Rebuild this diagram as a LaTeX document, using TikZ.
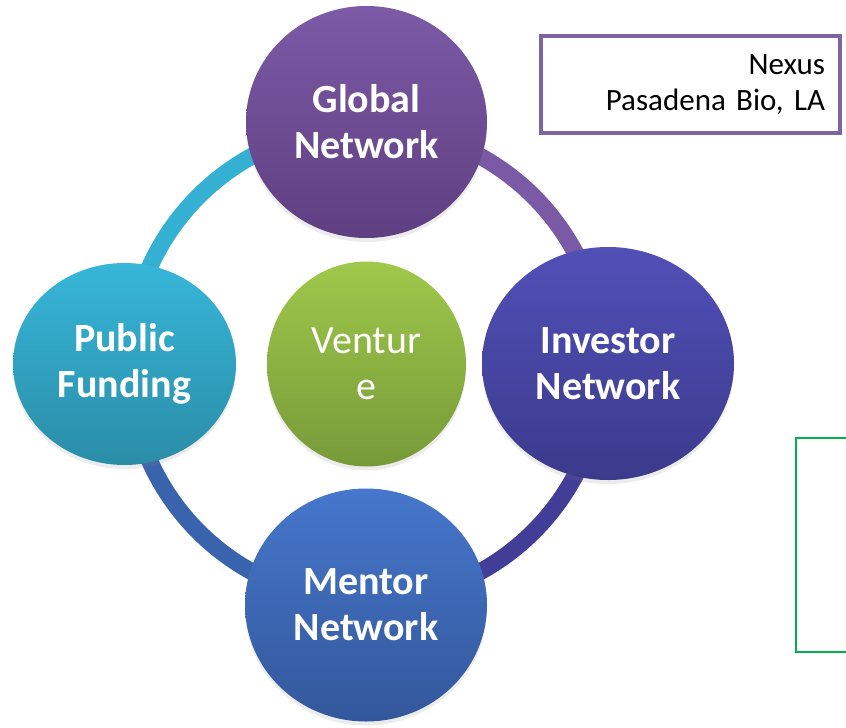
\documentclass[tikz,border=0pt]{standalone}
\usepackage{fontspec}
\setmainfont{Carlito}
\usepackage{tikz}
\usetikzlibrary{shapes.geometric,shadows}

\definecolor{globtop}{HTML}{7C5AA7}
\definecolor{globbot}{HTML}{5F3F80}
\definecolor{invtop}{HTML}{5150B8}
\definecolor{invbot}{HTML}{3C3A8B}
\definecolor{pubtop}{HTML}{37B6D9}
\definecolor{pubbot}{HTML}{2A8DA7}
\definecolor{menttop}{HTML}{4677CC}
\definecolor{mentbot}{HTML}{33579A}
\definecolor{ventop}{HTML}{9FC84B}
\definecolor{venbot}{HTML}{779A39}
\definecolor{pubring}{HTML}{34B1D2}
\definecolor{globring}{HTML}{7A5AA5}
\definecolor{invring}{HTML}{423E98}
\definecolor{mentring}{HTML}{3A63AE}
\definecolor{boxpurple}{HTML}{8064A2}
\definecolor{notegreen}{HTML}{00B050}

\begin{document}
\begin{tikzpicture}[x=1pt,y=1pt,
		bubble/.style={ellipse, inner sep=-20pt, text=white, align=center,
			font=\fontsize{40}{46}\selectfont, shading=axis,
			drop shadow={shadow xshift=0pt, shadow yshift=-4pt, opacity=0.15}},
		ring/.style={line width=17pt},
		infobox/.style={draw=boxpurple, line width=4pt, inner xsep=15pt,
			text width=269pt, align=right, minimum height=97pt,
			font=\fontsize{31}{36.7}\selectfont},
		notebox/.style={draw=notegreen, line width=2pt}]
		\useasboundingbox (0,0) rectangle (846,-728);
		\coordinate (C) at (366,-364);
		% ring under the bubbles
		\draw[ring, pubring] ([shift={(180:237)}]C) arc[start angle=180, end angle=90, radius=237];
		\draw[ring, globring] ([shift={(90:237)}]C) arc[start angle=90, end angle=0, radius=237];
		\draw[ring, invring] ([shift={(0:237)}]C) arc[start angle=0, end angle=-90, radius=237];
		\draw[ring, mentring] ([shift={(-90:237)}]C) arc[start angle=-90, end angle=-180, radius=237];
		% bubbles
		\node[bubble, minimum width=241pt, minimum height=232pt, top color=globtop, bottom color=globbot]
			(G) at (366.5,-122) {\bfseries Global\\\bfseries Network};
		\node[bubble, minimum width=252pt, minimum height=233pt, top color=invtop, bottom color=invbot]
			(I) at (608,-363.5) {\bfseries Investor\\\bfseries Network};
		\node[bubble, minimum width=223pt, minimum height=202pt, top color=pubtop, bottom color=pubbot]
			(P) at (124.5,-364) {\bfseries Public\\\bfseries Funding};
		\node[bubble, minimum width=242pt, minimum height=233pt, top color=menttop, bottom color=mentbot]
			(M) at (366,-605) {\bfseries Mentor\\\bfseries Network};
		\node[bubble, minimum width=199pt, minimum height=205pt, top color=ventop, bottom color=venbot]
			(V) at (366.5,-364) {Ventur\\e};
		% boxes on the right
		\node[infobox] (nexus) at (690.5,-84.5) {Nexus\\Pasadena Bio,\ LA};
		\node[notebox, minimum width=88pt, minimum height=214pt] (note) at (840,-545) {};
	\end{tikzpicture}
\end{document}
